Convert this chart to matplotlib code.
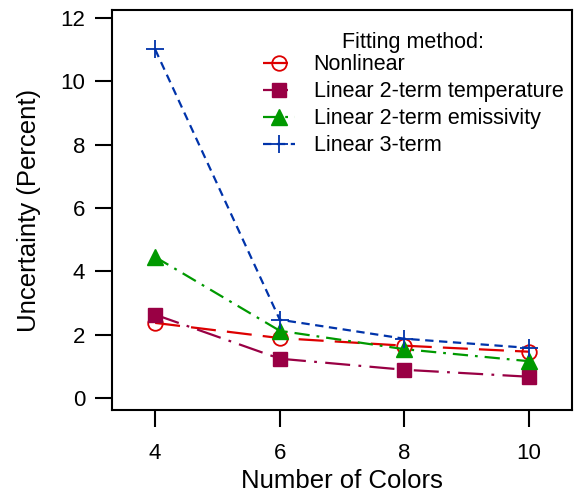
import matplotlib
matplotlib.use("Agg")
import matplotlib.pyplot as plt
from matplotlib.legend_handler import HandlerLine2D

colors_n = [4, 6, 8, 10]
nonlinear = [2.37, 1.89, 1.65, 1.46]
lin2_temp = [2.63, 1.24, 0.89, 0.67]
lin2_emis = [4.45, 2.12, 1.54, 1.16]
lin3 = [11.0, 2.47, 1.87, 1.58]

labels = ["Nonlinear", "Linear 2-term temperature",
          "Linear 2-term emissivity", "Linear 3-term"]
x_ticks = [4, 6, 8, 10]
y_ticks = [0, 2, 4, 6, 8, 10, 12]


class EndMarkerHandler(HandlerLine2D):
    """Legend handle with the marker near the right end, like Igor."""

    def get_xdata(self, legend, xdescent, ydescent, width, height, fontsize):
        xdata = [-xdescent, -xdescent + width]
        return xdata, [-xdescent + width * 0.68]


plt.rcParams["font.family"] = ["Liberation Sans", "DejaVu Sans"]
plt.rcParams["lines.scale_dashes"] = False

fig = plt.figure(figsize=(5.75, 4.94), dpi=100)
ax = fig.add_axes([0.194, 0.170, 0.801, 0.810])

lw = 1.6
ax.plot(colors_n, nonlinear, color="#dd0000", lw=lw, dashes=(18, 8),
        marker="o", ms=10.5, mfc="none", mec="#dd0000", mew=1.3, label=labels[0])
ax.plot(colors_n, lin2_temp, color="#990044", lw=lw, dashes=(18, 6, 2, 6),
        marker="s", ms=9.5, mec="#990044", label=labels[1])
ax.plot(colors_n, lin2_emis, color="#009900", lw=lw, dashes=(11, 5, 2, 5),
        marker="^", ms=11, mec="#009900", label=labels[2])
ax.plot(colors_n, lin3, color="#0033aa", lw=lw, dashes=(6, 4),
        marker="+", ms=13, mew=1.3, label=labels[3])

ax.set_xlim(3.30, 10.69)
ax.set_ylim(-0.38, 12.25)
ax.set_xticks(x_ticks)
ax.set_yticks(y_ticks)
ax.tick_params(direction="out", length=12, width=1.5, labelsize=16, pad=7)
ax.tick_params(axis="x", pad=12)
for s in ax.spines.values():
    s.set_linewidth(1.5)

ax.set_xlabel("Number of Colors", fontsize=18.5, labelpad=3)
ax.set_ylabel("Uncertainty (Percent)", fontsize=18.5)
ax.yaxis.set_label_coords(-0.153, 0.5)

leg = ax.legend(title="Fitting method:", loc="upper left",
                bbox_to_anchor=(0.329, 0.945), frameon=False,
                borderpad=0, borderaxespad=0,
                fontsize=15.5, title_fontsize=15.5, handlelength=1.5,
                handletextpad=0.85, labelspacing=0.28,
                handler_map={matplotlib.lines.Line2D: EndMarkerHandler(numpoints=1)})
# tighter gap between the title and the first entry
leg._legend_box.sep = 1

fig.savefig("out.png", dpi=100)
